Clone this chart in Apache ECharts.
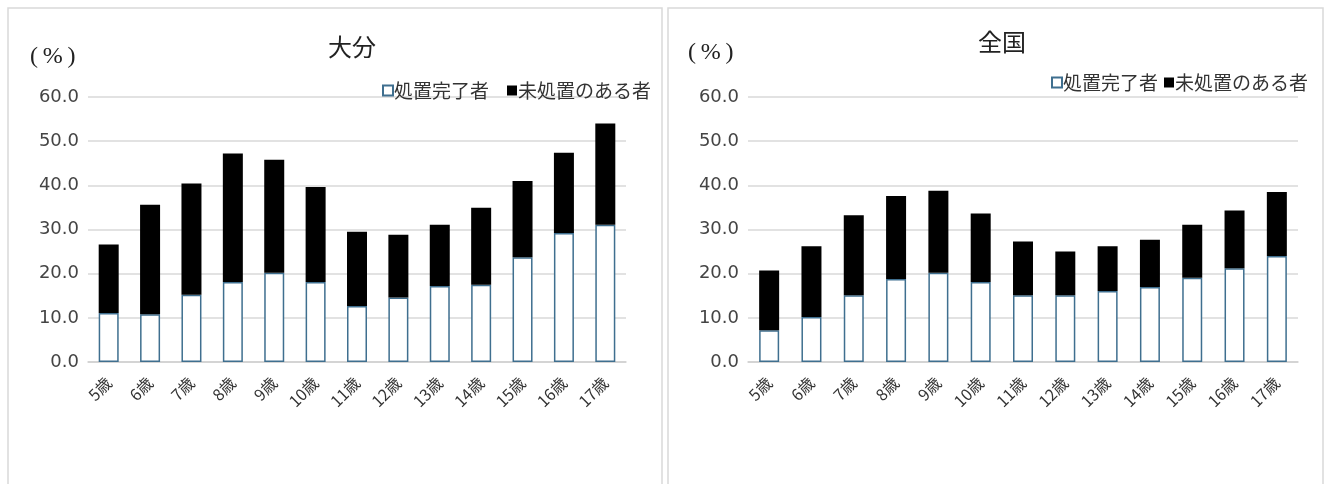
<!DOCTYPE html>
<html><head><meta charset="utf-8">
<script src="https://cdn.jsdelivr.net/npm/echarts@6/dist/echarts.min.js"></script>
<style>html,body{margin:0;padding:0;background:#fff;}#c{width:1328px;height:484px;}</style>
</head><body><div id="c"></div>
<script>
const categories = ['5歳','6歳','7歳','8歳','9歳','10歳','11歳','12歳','13歳','14歳','15歳','16歳','17歳'];
// 大分
const oitaDone  = [11.1, 10.8, 15.2, 18.1, 20.2, 18.1, 12.7, 14.6, 17.2, 17.5, 23.7, 29.2, 31.1];
const oitaTotal = [26.6, 35.6, 40.4, 47.2, 45.8, 39.6, 29.5, 28.8, 31.1, 34.9, 41.0, 47.4, 54.0];
// 全国
const natDone   = [7.2, 10.2, 15.1, 18.8, 20.2, 18.1, 15.1, 15.1, 16.1, 17.0, 19.1, 21.2, 24.0];
const natTotal  = [20.7, 26.2, 33.2, 37.6, 38.8, 33.6, 27.3, 25.0, 26.2, 27.7, 31.1, 34.3, 38.5];
const seriesNames = ['処置完了者', '未処置のある者'];
const titles = ['大分', '全国'];
const unitLabel = '(\u2009%\u2009)';

const oitaUndone = oitaTotal.map((t, i) => +(t - oitaDone[i]).toFixed(1));
const natUndone = natTotal.map((t, i) => +(t - natDone[i]).toFixed(1));

const chart = echarts.init(document.getElementById('c'), null, {renderer: 'canvas'});
const jp = '"Noto Sans CJK JP", "Noto Sans", sans-serif';
function xAxis(idx) {
  return {
    type: 'category', gridIndex: idx, data: categories,
    axisLine: {lineStyle: {color: '#d0d0d0', width: 1.5}},
    axisTick: {show: false},
    axisLabel: {rotate: 45, fontSize: 16, color: '#333', fontFamily: jp, margin: 18}
  };
}
function yAxis(idx) {
  return {
    type: 'value', gridIndex: idx, min: 0, max: 60, interval: 10,
    axisLine: {show: false}, axisTick: {show: false},
    splitLine: {lineStyle: {color: '#d9d9d9', width: 1.5}},
    axisLabel: {fontSize: 18, color: '#444', fontFamily: '"DejaVu Sans", sans-serif',
      formatter: v => v.toFixed(1), margin: 9}
  };
}
const doneStyle = {color: '#ffffff', borderColor: '#3f6f8f', borderWidth: 1.5};
const undoneStyle = {color: '#000000'};
chart.setOption({
  animation: false,
  title: [
    {text: titles[0], left: 347, top: 30, textAlign: 'center',
     textStyle: {fontSize: 24, fontWeight: 'normal', color: '#222', fontFamily: jp}},
    {text: titles[1], left: 997, top: 25, textAlign: 'center',
     textStyle: {fontSize: 24, fontWeight: 'normal', color: '#222', fontFamily: jp}}
  ],
  legend: [
    {data: seriesNames, right: 1328 - 656, top: 76, itemWidth: 10, itemHeight: 10, itemGap: 18,
     icon: 'rect', textStyle: {fontSize: 19, color: '#333', fontFamily: jp, padding: [0,0,0,-4]}},
    {data: seriesNames, right: 1328 - 1313, top: 68, itemWidth: 10, itemHeight: 10, itemGap: 6,
     icon: 'rect', textStyle: {fontSize: 19, color: '#333', fontFamily: jp, padding: [0,0,0,-4]}}
  ],
  grid: [
    {left: 88, right: 1328 - 626, top: 97, bottom: 484 - 362},
    {left: 748, right: 1328 - 1298, top: 97, bottom: 484 - 362}
  ],
  xAxis: [xAxis(0), xAxis(1)],
  yAxis: [yAxis(0), yAxis(1)],
  graphic: [
    {type: 'rect', shape: {x: 8, y: 8, width: 654, height: 500}, style: {fill: 'none', stroke: '#d9d9d9', lineWidth: 1.5}, silent: true},
    {type: 'rect', shape: {x: 668, y: 8, width: 655, height: 500}, style: {fill: 'none', stroke: '#d9d9d9', lineWidth: 1.5}, silent: true},
    {type: 'text', left: 30, top: 45, style: {text: unitLabel, fontSize: 24, fill: '#222', fontFamily: '"Liberation Serif", serif'}},
    {type: 'text', left: 688, top: 41, style: {text: unitLabel, fontSize: 24, fill: '#222', fontFamily: '"Liberation Serif", serif'}}
  ],
  series: [
    {name: seriesNames[0], type: 'bar', stack: 'a', xAxisIndex: 0, yAxisIndex: 0, data: oitaDone, barWidth: 20, itemStyle: doneStyle},
    {name: seriesNames[1], type: 'bar', stack: 'a', xAxisIndex: 0, yAxisIndex: 0, data: oitaUndone, barWidth: 20, itemStyle: undoneStyle},
    {name: seriesNames[0], type: 'bar', stack: 'b', xAxisIndex: 1, yAxisIndex: 1, data: natDone, barWidth: 20, itemStyle: doneStyle},
    {name: seriesNames[1], type: 'bar', stack: 'b', xAxisIndex: 1, yAxisIndex: 1, data: natUndone, barWidth: 20, itemStyle: undoneStyle}
  ]
});
</script></body></html>
